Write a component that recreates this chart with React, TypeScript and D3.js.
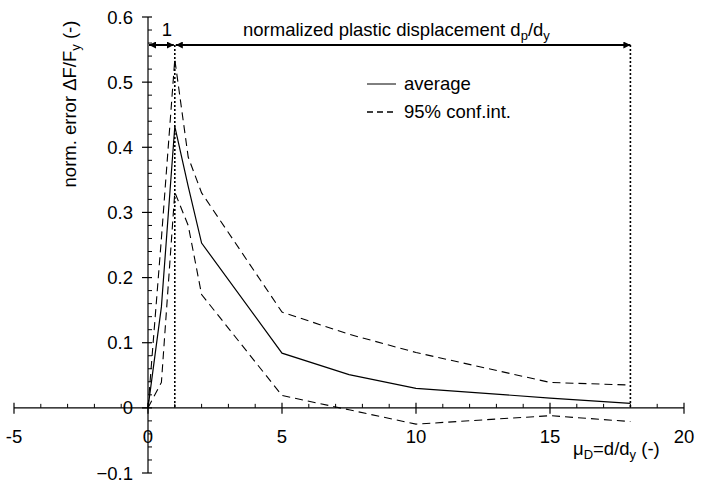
import React from 'react';
import * as d3 from 'd3';

// ductility values mu_D = d/d_y
const mu = [0, 0.5, 1, 1.5, 2, 5, 7.5, 10, 15, 18];
const average = [0, 0.155, 0.432, 0.34, 0.253, 0.084, 0.051, 0.03, 0.015, 0.007];
const upper95 = [0, 0.26, 0.535, 0.385, 0.33, 0.147, 0.113, 0.085, 0.039, 0.035];
const lower95 = [0, 0.039, 0.331, 0.28, 0.174, 0.019, -0.003, -0.025, -0.012, -0.021];

const xTicks = [-5, 0, 5, 10, 15, 20];
const yTicks = [-0.1, 0, 0.1, 0.2, 0.3, 0.4, 0.5, 0.6];

const width = 703;
const height = 482;
const font = '"Liberation Sans", Arial, sans-serif';
const fs = 18.5;
const sub = 13;

const App = () => {
    const x = d3.scaleLinear().domain([-5, 20]).range([14, 684]);
    const y = d3.scaleLinear().domain([-0.1, 0.6]).range([473, 17]);

    const line = (vals: number[]) =>
        d3.line<number>().x((_, i) => x(mu[i])).y(d => y(d))(vals) || '';

    const xMinor = d3.range(-5, 21, 1).filter(v => v % 5 !== 0);
    const yMinor = d3.range(-0.1, 0.6001, 0.02).filter(v => Math.abs(Math.round(v * 10) - v * 10) > 1e-6);

    const arrowY = 45;
    const x0 = x(0);
    const x1 = x(1);
    const x18 = x(18);

    return (
        <svg width={width} height={height} style={{ position: 'absolute', left: 0, top: 0 }}
            fontFamily={font} fontSize={fs}>
            <defs>
                <marker id="ah" viewBox="0 0 10 10" refX="10" refY="5" markerWidth="7" markerHeight="7"
                    orient="auto-start-reverse" markerUnits="userSpaceOnUse">
                    <path d="M0,0 L10,5 L0,10 z" fill="black" />
                </marker>
            </defs>
            <rect width={width} height={height} fill="white" />

            {/* x axis */}
            <line x1={x(-5)} x2={x(20)} y1={y(0)} y2={y(0)} stroke="black" strokeWidth={1.2} />
            {xTicks.map(t => (
                <g key={t}>
                    <line x1={x(t)} x2={x(t)} y1={y(0) - 5} y2={y(0) + 6} stroke="black" strokeWidth={1.2} />
                    <text x={x(t)} y={y(0) + 35} textAnchor="middle">{t}</text>
                </g>
            ))}
            {xMinor.map(t => (
                <line key={t} x1={x(t)} x2={x(t)} y1={y(0) - 4} y2={y(0)} stroke="black" strokeWidth={1} />
            ))}

            {/* y axis */}
            <line x1={x0} x2={x0} y1={y(-0.1)} y2={y(0.6)} stroke="black" strokeWidth={1.2} />
            {yTicks.map(t => (
                <g key={t}>
                    <line x1={x0 - 6} x2={x0 + 4} y1={y(t)} y2={y(t)} stroke="black" strokeWidth={1.2} />
                    <text x={x0 - 15} y={y(t) + 6.5} textAnchor="end">{t === 0 ? '0' : d3.format('.1f')(t)}</text>
                </g>
            ))}
            {yMinor.map(t => (
                <line key={t} x1={x0} x2={x0 + 4} y1={y(t)} y2={y(t)} stroke="black" strokeWidth={1} />
            ))}

            {/* axis titles */}
            <text transform={`translate(76,${104}) rotate(-90)`} textAnchor="middle">
                norm. error ΔF/F<tspan fontSize={sub} dy={4}>y</tspan><tspan dy={-4}> (-)</tspan>
            </text>
            <text x={573} y={455}>
                μ<tspan fontSize={sub} dy={4}>D</tspan><tspan dy={-4}>=d/d</tspan>
                <tspan fontSize={sub} dy={4}>y</tspan><tspan dy={-4}> (-)</tspan>
            </text>

            {/* data */}
            <path d={line(average)} fill="none" stroke="black" strokeWidth={1.2} />
            <path d={line(upper95)} fill="none" stroke="black" strokeWidth={1.1} strokeDasharray="8,5" />
            <path d={line(lower95)} fill="none" stroke="black" strokeWidth={1.1} strokeDasharray="8,5" />

            {/* annotation */}
            <line x1={x1} x2={x1} y1={arrowY} y2={y(0)} stroke="black" strokeWidth={1.6} strokeDasharray="2,2" />
            <line x1={x18} x2={x18} y1={arrowY} y2={y(0)} stroke="black" strokeWidth={1.6} strokeDasharray="2,2" />
            <line x1={x0 + 1} x2={x1 - 1} y1={arrowY} y2={arrowY} stroke="black" strokeWidth={2}
                markerStart="url(#ah)" markerEnd="url(#ah)" />
            <line x1={x1 + 1} x2={x18} y1={arrowY} y2={arrowY} stroke="black" strokeWidth={2.2}
                markerStart="url(#ah)" markerEnd="url(#ah)" />
            <text x={167} y={36} textAnchor="middle">1</text>
            <text x={243} y={36}>
                normalized plastic displacement d<tspan fontSize={sub} dy={4}>p</tspan>
                <tspan dy={-4}>/d</tspan><tspan fontSize={sub} dy={4}>y</tspan>
            </text>

            {/* legend */}
            <line x1={367} x2={396} y1={84} y2={84} stroke="black" strokeWidth={1} />
            <text x={404} y={90}>average</text>
            <line x1={367} x2={396} y1={112} y2={112} stroke="black" strokeWidth={1.6} strokeDasharray="6,4" />
            <text x={404} y={118}>95% conf.int.</text>
        </svg>
    );
};

export default App;
